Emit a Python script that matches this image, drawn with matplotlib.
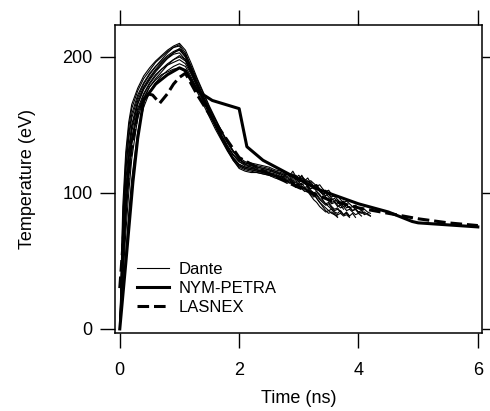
import matplotlib
matplotlib.use("Agg")
import matplotlib.pyplot as plt

plt.rcParams['font.family'] = ['Liberation Sans', 'DejaVu Sans']

# time grid (ns) shared by the Dante shots: coarse on the pulse, fine on the noisy tail
t_dante = [0.0, 0.05, 0.1, 0.15, 0.2,
           0.3, 0.4, 0.5, 0.6, 0.7, 0.8, 0.9, 1.0, 1.1, 1.2, 1.3, 1.4, 1.5, 1.6, 1.7,
           1.8, 1.9, 2.0, 2.1, 2.2, 2.3, 2.4, 2.5, 2.6, 2.7,
           2.75, 2.8, 2.85, 2.9, 2.95, 3.0, 3.05, 3.1, 3.15, 3.2, 3.25, 3.3, 3.35, 3.4, 3.45,
           3.5, 3.55, 3.6, 3.65, 3.7, 3.75, 3.8, 3.85, 3.9, 3.95, 4.0, 4.05, 4.1, 4.15, 4.2]

# Dante measured temperatures (eV); each shot ends at its own time
dante_1 = [0, 70, 115, 140, 155,
           170, 180, 187, 193, 198, 203, 207, 209, 203, 192, 181, 171, 161, 152, 143, 135, 128, 123, 121, 120, 119, 118, 117, 115, 114,
           113, 111, 112, 110, 111, 108, 109, 107, 105, 106, 103, 104, 101, 99, 100, 97, 95, 96, 93, 91, 92, 89, 90, 87, 88, 85, 86, 84, 85, 83]
dante_2 = [0, 40, 80, 110, 135,
           160, 172, 180, 186, 191, 195, 198, 200, 197, 188, 178, 168, 159, 150, 141, 133, 126, 121, 119, 118, 117, 116, 115, 113, 112,
           111, 109, 110, 108, 109, 106, 107, 104, 105, 102, 100, 101, 98, 96, 97, 94, 92, 93, 90, 91, 88]
dante_3 = [0, 55, 95, 125, 145,
           165, 176, 183, 189, 194, 199, 203, 206, 202, 193, 183, 173, 163, 154, 145, 137, 130, 125, 122, 121, 120, 119, 118, 116, 115,
           114, 112, 113, 111, 112, 110, 111, 109, 107, 108, 105, 106, 103, 101, 102, 99, 97, 98, 95, 93, 94, 91, 89, 90, 88, 86, 87, 85]
dante_4 = [0, 25, 55, 85, 110,
           145, 163, 174, 181, 186, 190, 193, 195, 193, 185, 176, 167, 158, 149, 140, 132, 125, 120, 118, 117, 116, 115, 114, 113, 111,
           110, 108, 109, 107, 105, 106, 104, 102, 103, 100, 98, 99, 96, 94, 92, 93, 90, 88, 89, 86]
dante_5 = [0, 60, 100, 128, 148,
           166, 177, 184, 190, 195, 199, 202, 203, 198, 188, 178, 168, 158, 149, 140, 132, 125, 120, 118, 117, 116, 115, 114, 113, 112,
           112, 110, 111, 109, 110, 108, 106, 107, 105, 103, 104, 101, 99, 95, 92, 90, 88, 86, 85, 87, 84, 86, 83, 85, 82]
dante_6 = [0, 80, 125, 148, 162,
           175, 184, 190, 196, 200, 204, 207, 208, 201, 190, 180, 170, 160, 151, 142, 134, 128, 124, 122, 121, 119, 118, 117, 116, 114,
           113, 115, 112, 114, 111, 113, 110, 108, 109, 106, 104, 105, 102, 100, 98, 99, 96, 94, 95, 92, 90, 91, 89, 87, 88, 86, 85, 86, 84, 83]
dante_7 = [0, 45, 90, 118, 140,
           162, 173, 181, 187, 191, 194, 196, 198, 195, 187, 178, 170, 162, 154, 146, 138, 131, 125, 121, 119, 117, 115, 114, 112, 111,
           110, 108, 109, 107, 108, 105, 103, 104, 101, 99, 100, 96, 93, 90, 87, 85, 86, 84, 83]
dante_8 = [0, 65, 108, 133, 150,
           168, 178, 185, 191, 196, 200, 203, 205, 200, 191, 181, 171, 161, 152, 143, 135, 128, 123, 120, 119, 118, 117, 116, 115, 113,
           112, 114, 113, 116, 112, 110, 113, 109, 111, 107, 105, 106, 102, 99, 97, 95, 93, 94, 91, 89, 90, 87, 88, 86, 84, 85, 83]
dante_9 = [0, 35, 70, 100, 125,
           155, 169, 178, 184, 189, 194, 198, 201, 198, 189, 179, 169, 159, 150, 141, 133, 126, 121, 119, 118, 117, 116, 115, 114, 112,
           111, 109, 110, 108, 106, 107, 105, 103, 104, 101, 99, 96, 93, 91, 89, 87, 88, 85, 84, 85, 83, 84, 82]
dante_10 = [0, 90, 130, 152, 165,
            177, 186, 192, 197, 201, 205, 208, 210, 205, 195, 184, 174, 164, 155, 146, 138, 131, 126, 123, 122, 121, 120, 119, 117, 116,
            115, 113, 114, 112, 113, 111, 112, 110, 108, 109, 107, 105, 106, 103, 101, 102, 99, 97, 98, 95, 93, 94, 92, 90, 91, 89, 87, 88, 86, 85]
dante_11 = [0, 50, 85, 115, 138,
            158, 170, 178, 183, 187, 189, 191, 192, 189, 182, 174, 165, 156, 147, 139, 131, 124, 119, 117, 116, 115, 114, 113, 111, 110,
            109, 107, 108, 106, 104, 105, 103, 101, 102, 99, 97, 98, 95, 93, 91, 92, 89, 87, 88, 86, 84, 85, 83]
dante_12 = [0, 75, 118, 143, 158,
            172, 181, 188, 193, 197, 201, 204, 206, 200, 190, 180, 170, 160, 150, 141, 132, 124, 118, 116, 115, 115, 114, 113, 112, 111,
            110, 109, 107, 108, 106, 104, 105, 103, 101, 98, 95, 93, 90, 88, 86, 87, 85, 84, 82]
dante_shots = [dante_1, dante_2, dante_3, dante_4, dante_5, dante_6,
               dante_7, dante_8, dante_9, dante_10, dante_11, dante_12]

# NYM-PETRA simulation
t_nym = [0.0, 0.1, 0.22, 0.3, 0.4, 0.6, 0.8, 1.0, 1.1, 1.3, 1.55, 2.0, 2.13, 2.4, 3.0, 3.3, 4.0, 4.5, 4.9, 5.0, 6.0]
T_nym = [0, 48, 108, 140, 168, 180, 187, 192, 190, 175, 168, 162, 134, 124, 110, 103, 92, 86, 79, 78, 75]

# LASNEX simulation
t_las = [0.0, 0.05, 0.1, 0.2, 0.3, 0.45, 0.55, 0.67, 0.8, 0.9, 1.0, 1.1, 1.3, 1.5, 2.0, 2.5, 3.0, 3.5, 4.0, 4.5, 5.0, 5.5, 6.0]
T_las = [30, 60, 95, 135, 158, 173, 172, 166, 173, 180, 185, 188, 172, 158, 126, 114, 104, 95, 89, 85, 81, 78, 76]

fig = plt.figure(figsize=(4.9, 4.11), dpi=100)
ax = fig.add_axes([0.2347, 0.1898, 0.749, 0.7494])

for i, shot in enumerate(dante_shots):
    ax.plot(t_dante[:len(shot)], shot, color='black', lw=0.8,
            label='Dante' if i == 0 else None)
ax.plot(t_nym, T_nym, color='black', lw=2.2, label='NYM-PETRA')
ax.plot(t_las, T_las, color='black', lw=2.2, linestyle=(0, (3.8, 1.6)), label='LASNEX')

ax.set_xlim(-0.08, 6.07)
ax.set_ylim(-3, 223.5)
ax.set_xticks([0, 2, 4, 6])
ax.set_yticks([0, 100, 200])
ax.tick_params(direction='out', length=11, width=1, labelsize=13, pad=5,
               top=True, right=True)
ax.tick_params(axis='x', pad=10)
for s in ax.spines.values():
    s.set_linewidth(1.1)

ax.set_xlabel('Time (ns)', fontsize=13, labelpad=8)
ax.set_ylabel('Temperature (eV)', fontsize=13, labelpad=19)

ax.legend(loc='lower left', bbox_to_anchor=(0.02, 0.01), frameon=False, fontsize=12,
          handlelength=1.9, handletextpad=0.6, labelspacing=0.25)

fig.savefig('out.png', dpi=100)
